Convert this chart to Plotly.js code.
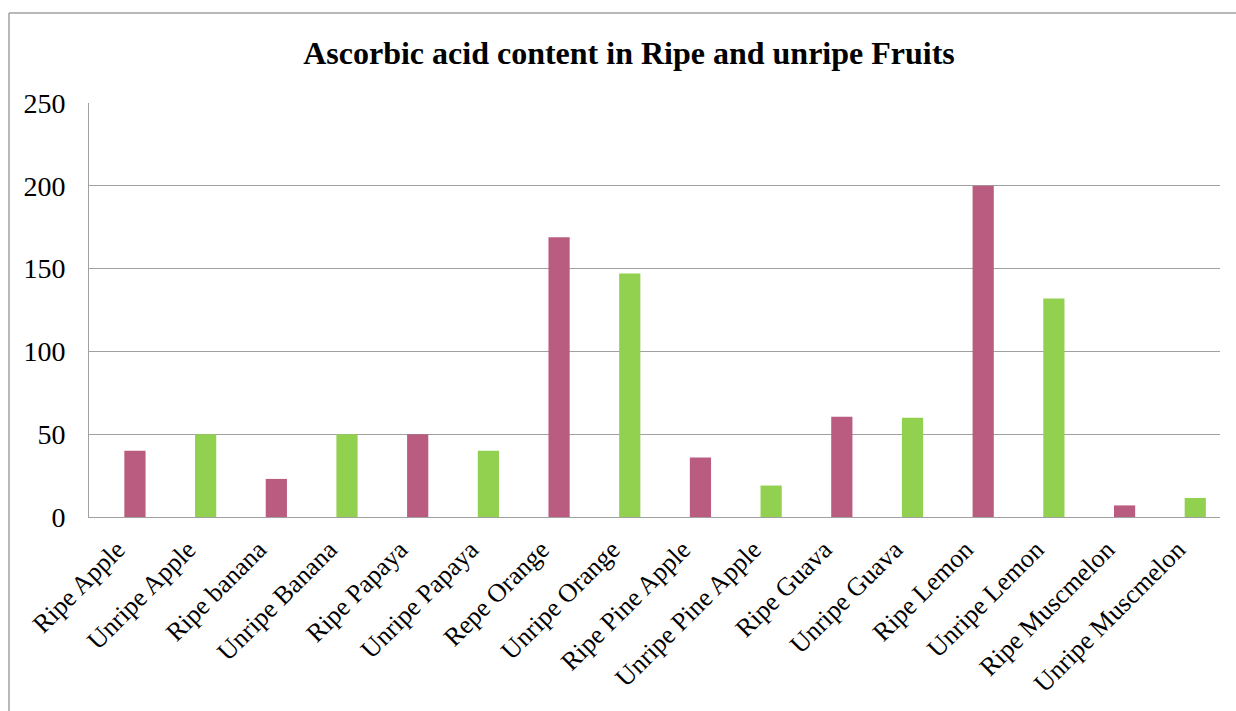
<!DOCTYPE html>
<html>
<head>
<meta charset="utf-8">
<script src="https://cdn.plot.ly/plotly-3.0.1.min.js"></script>
<style>
html,body{margin:0;padding:0;background:#fff;}
#chart{width:1236px;height:711px;}
</style>
</head>
<body>
<div id="chart"></div>
<script>
const categories = ["Ripe Apple","Unripe Apple","Ripe banana","Unripe Banana","Ripe Papaya","Unripe Papaya","Repe Orange","Unripe Orange","Ripe Pine Apple","Unripe Pine Apple","Ripe Guava","Unripe Guava","Ripe Lemon","Unripe Lemon","Ripe Muscmelon","Unripe Muscmelon"];
const values = [40, 50, 23, 50, 50, 40, 169, 147, 36, 19, 60.5, 60, 200, 132, 7, 11.5];
const barColors = ["#BA5C7F","#92D050","#BA5C7F","#92D050","#BA5C7F","#92D050","#BA5C7F","#92D050","#BA5C7F","#92D050","#BA5C7F","#92D050","#BA5C7F","#92D050","#BA5C7F","#92D050"];
const yTicks = [0, 50, 100, 150, 200, 250];

const trace = {
  type: 'bar',
  x: categories,
  y: values,
  marker: {color: barColors},
  width: 0.3,
  offset: 0,
  hoverinfo: 'x+y'
};

const layout = {
  width: 1236, height: 711,
  margin: {l: 89, r: 16, t: 103, b: 194},
  paper_bgcolor: '#ffffff',
  plot_bgcolor: '#ffffff',
  showlegend: false,
  font: {family: '"Liberation Serif", "Times New Roman", serif', color: '#000'},
  title: {
    text: '<b>Ascorbic acid content in Ripe and unripe Fruits</b>',
    font: {size: 32, family: '"Liberation Serif", "Times New Roman", serif', color: '#000'},
    x: 629/1236, xanchor: 'center', y: 1 - 53/711, yanchor: 'middle'
  },
  xaxis: {
    type: 'category',
    range: [-0.5, 15.5],
    tickangle: -45,
    tickfont: {size: 26},
    showline: true, linecolor: '#a0a0a0', linewidth: 1,
    showgrid: false, ticks: '', ticklabelstandoff: 6, ticklabelshift: -7,
    fixedrange: true
  },
  yaxis: {
    range: [0, 250],
    tickvals: yTicks,
    ticktext: yTicks.map(String),
    tickfont: {size: 28},
    showline: true, linecolor: '#a0a0a0', linewidth: 1,
    showgrid: true, gridcolor: '#a0a0a0', gridwidth: 1,
    zeroline: false, ticks: '', ticklabelstandoff: 17,
    fixedrange: true
  },
  shapes: [
    {type: 'line', xref: 'paper', yref: 'paper', x0: (9-89)/1131, x1: (1240-89)/1131, y0: (516.7-13)/413.7, y1: (516.7-13)/413.7, line: {color: '#a0a0a0', width: 1.5}},
    {type: 'line', xref: 'paper', yref: 'paper', x0: (9-89)/1131, x1: (9-89)/1131, y0: (516.7-13)/413.7, y1: (516.7-720)/413.7, line: {color: '#a0a0a0', width: 1.5}}
  ]
};

Plotly.newPlot('chart', [trace], layout, {displayModeBar: false, staticPlot: true});
</script>
</body>
</html>
